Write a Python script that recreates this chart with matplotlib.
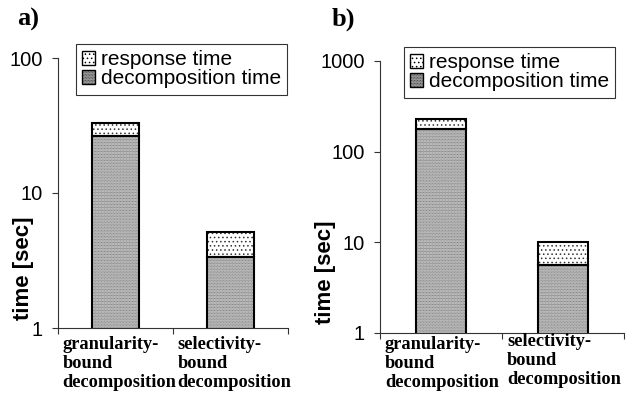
import numpy as np
import matplotlib
matplotlib.use("Agg")
import matplotlib.pyplot as plt
from matplotlib.patches import Patch
from matplotlib.transforms import blended_transform_factory

# Data (seconds, log scale)
categories = ["granularity-\nbound\ndecomposition", "selectivity-\nbound\ndecomposition"]
decomp_a = [26.4, 3.37]
total_a = [33.0, 5.1]
decomp_b = [179.0, 5.6]
total_b = [230.0, 10.0]
response_a = [t - d for t, d in zip(total_a, decomp_a)]
response_b = [t - d for t, d in zip(total_b, decomp_b)]

plt.rcParams["hatch.linewidth"] = 0.6

fig = plt.figure(figsize=(6.4, 3.96), dpi=100)

sans = ["Liberation Sans", "DejaVu Sans"]
serif = ["Liberation Serif", "DejaVu Serif"]

DEC_FACE, DEC_HATCH, DEC_DOTS = "#d4d4d4", "#6a6a6a", "..........."
RESP_FACE, RESP_HATCH, RESP_DOTS = "white", "#333333", "...."


def draw_panel(rect, decomp, response, ylim, yticks, letter, letter_x, ylabel_x, ylabel_y, legend_anchor, label_y):
    ax = fig.add_axes(rect)
    x = np.arange(len(categories)) + 0.5
    w = 0.41
    # textured fills first, then black outlines on top
    ax.bar(x, decomp, width=w, bottom=1e-9, facecolor=DEC_FACE, edgecolor=DEC_HATCH,
           linewidth=0, hatch=DEC_DOTS, zorder=2)
    ax.bar(x, response, width=w, bottom=decomp, facecolor=RESP_FACE, edgecolor=RESP_HATCH,
           linewidth=0, hatch=RESP_DOTS, zorder=2)
    ax.bar(x, decomp, width=w, bottom=1e-9, fill=False, edgecolor="black", linewidth=1.5, zorder=3)
    ax.bar(x, response, width=w, bottom=decomp, fill=False, edgecolor="black", linewidth=1.5, zorder=3)
    ax.set_yscale("log")
    ax.set_ylim(*ylim)
    ax.set_xlim(0, len(categories))
    ax.set_yticks(yticks)
    ax.set_yticklabels([str(t) for t in yticks], family=sans, fontsize=14.5)
    ax.yaxis.set_minor_locator(matplotlib.ticker.NullLocator())
    ax.set_xticks(np.arange(len(categories) + 1))
    ax.set_xticklabels([])
    ax.tick_params(axis="y", length=4, width=0.8, pad=7, color="#333333")
    ax.tick_params(axis="x", length=4, width=0.8, color="#333333")
    for s in ["top", "right"]:
        ax.spines[s].set_visible(False)
    for s in ["left", "bottom"]:
        ax.spines[s].set_linewidth(0.8)
        ax.spines[s].set_color("#333333")

    trans = blended_transform_factory(ax.transData, ax.transAxes)
    for i, lab in enumerate(categories):
        ax.text(i + 0.04, label_y[i], lab, transform=trans, ha="left", va="top",
                family=serif, fontsize=13.2, fontweight="bold", linespacing=1.14)

    handles = [Patch(facecolor=RESP_FACE, edgecolor="black", hatch=RESP_DOTS, linewidth=1.0),
               Patch(facecolor=DEC_FACE, edgecolor="black", hatch=DEC_DOTS, linewidth=1.0)]
    leg = fig.legend(handles, ["response time", "decomposition time"], loc="upper left",
                     bbox_to_anchor=legend_anchor, prop={"family": sans, "size": 15},
                     frameon=True, fancybox=False, edgecolor="black", handlelength=0.6,
                     handleheight=0.6, handletextpad=0.3, labelspacing=0.0,
                     borderpad=0.3, borderaxespad=0)
    leg.get_frame().set_linewidth(0.8)

    fig.text(letter_x, 1 - 19 / 396, letter, family=serif, fontsize=19, fontweight="bold",
             ha="left", va="center")
    fig.text(ylabel_x, ylabel_y, "time [sec]", family=sans, fontsize=16, fontweight="bold",
             rotation=90, ha="center", va="center")
    return ax


draw_panel([58 / 640, 1 - 328 / 396, 230 / 640, 270 / 396], decomp_a, response_a,
           (1, 100), [1, 10, 100], "a)", 17 / 640, 23 / 640, 1 - 268 / 396,
           (76 / 640, 1 - 44 / 396), [-0.03, -0.03])
draw_panel([380 / 640, 1 - 333 / 396, 244 / 640, 272 / 396], decomp_b, response_b,
           (1, 1000), [1, 10, 100, 1000], "b)", 332 / 640, 325 / 640, 1 - 272 / 396,
           (404 / 640, 1 - 47 / 396), [-0.012, 0.0])

fig.savefig("out.png", dpi=100)
